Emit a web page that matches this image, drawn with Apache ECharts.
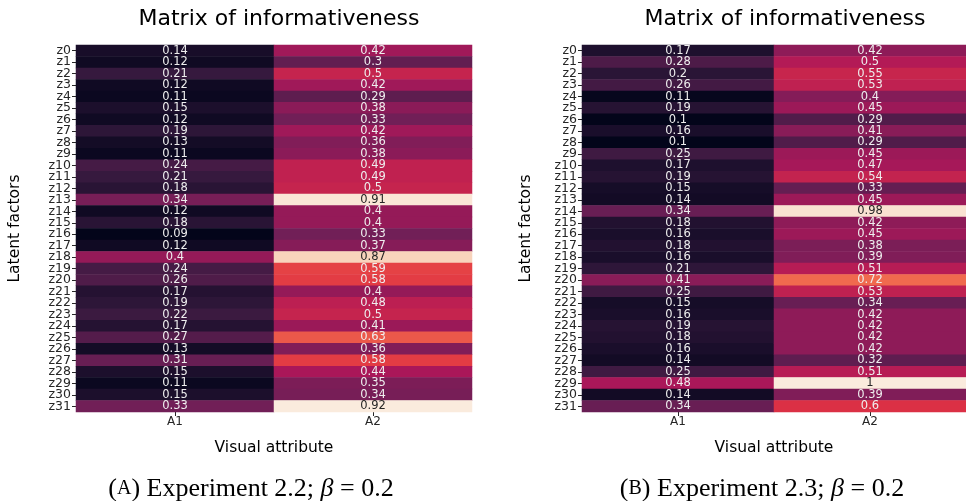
<!DOCTYPE html>
<html>
<head>
<meta charset="utf-8">
<script src="https://cdn.jsdelivr.net/npm/echarts@6/dist/echarts.min.js"></script>
<style>
  html, body { margin: 0; padding: 0; background: #ffffff; }
  #chart { width: 966px; height: 501px; }
</style>
</head>
<body>
<div id="chart"></div>
<script>
// Latent factor rows and visual attribute columns
const factors = Array.from({ length: 32 }, (_, i) => 'z' + i);
const attributes = ['A1', 'A2'];

// Experiment 2.2 (beta = 0.2)
const expA_A1 = [0.14, 0.12, 0.21, 0.12, 0.11, 0.15, 0.12, 0.19, 0.13, 0.11, 0.24, 0.21, 0.18, 0.34, 0.12, 0.18,
                 0.09, 0.12, 0.4, 0.24, 0.26, 0.17, 0.19, 0.22, 0.17, 0.27, 0.13, 0.31, 0.15, 0.11, 0.15, 0.33];
const expA_A2 = [0.42, 0.3, 0.5, 0.42, 0.29, 0.38, 0.33, 0.42, 0.36, 0.38, 0.49, 0.49, 0.5, 0.91, 0.4, 0.4,
                 0.33, 0.37, 0.87, 0.59, 0.58, 0.4, 0.48, 0.5, 0.41, 0.63, 0.36, 0.58, 0.44, 0.35, 0.34, 0.92];

// Experiment 2.3 (beta = 0.2)
const expB_A1 = [0.17, 0.28, 0.2, 0.26, 0.11, 0.19, 0.1, 0.16, 0.1, 0.25, 0.17, 0.19, 0.15, 0.14, 0.34, 0.18,
                 0.16, 0.18, 0.16, 0.21, 0.41, 0.25, 0.15, 0.16, 0.19, 0.18, 0.16, 0.14, 0.25, 0.48, 0.14, 0.34];
const expB_A2 = [0.42, 0.5, 0.55, 0.53, 0.4, 0.45, 0.29, 0.41, 0.29, 0.45, 0.47, 0.54, 0.33, 0.45, 0.98, 0.42,
                 0.45, 0.38, 0.39, 0.51, 0.72, 0.53, 0.34, 0.42, 0.42, 0.42, 0.42, 0.32, 0.51, 1, 0.39, 0.6];

const titleText = 'Matrix of informativeness';
const xName = 'Visual attribute';
const yName = 'Latent factors';

// "rocket" colormap stops
const rocket = ['#03051a', '#35193e', '#701f57', '#ad1759', '#e13342', '#f37651', '#f6b48f', '#faebdd'];

function cells(colA1, colA2) {
  const out = [];
  colA1.forEach((v, i) => out.push([0, i, v]));
  colA2.forEach((v, i) => out.push([1, i, v]));
  return out;
}

const dataA = cells(expA_A1, expA_A2);
const dataB = cells(expB_A1, expB_A2);
const minA = Math.min(...expA_A1, ...expA_A2), maxA = Math.max(...expA_A1, ...expA_A2);
const minB = Math.min(...expB_A1, ...expB_A2), maxB = Math.max(...expB_A1, ...expB_A2);

const sans = 'DejaVu Sans';
const tickColor = '#262626';

const grids = [
  { left: 76, top: 45, width: 396, height: 367 },
  { left: 582, top: 45, width: 396, height: 367 }
];

function xAxisFor(idx) {
  return {
    type: 'category', gridIndex: idx, data: attributes, position: 'bottom',
    axisLine: { show: false },
    axisTick: { show: true, alignWithLabel: true, length: 4, lineStyle: { color: tickColor, width: 1 } },
    axisLabel: { color: tickColor, fontFamily: sans, fontSize: 12, margin: 4 },
    splitLine: { show: false },
    name: xName, nameLocation: 'middle', nameGap: 28,
    nameTextStyle: { color: '#000', fontFamily: sans, fontSize: 15.5 }
  };
}

function yAxisFor(idx, gap) {
  return {
    type: 'category', gridIndex: idx, data: factors, inverse: true,
    axisLine: { show: false },
    axisTick: { show: true, alignWithLabel: true, length: 4, lineStyle: { color: tickColor, width: 1 } },
    axisLabel: { color: tickColor, fontFamily: sans, fontSize: 12.5, margin: 5, interval: 0 },
    splitLine: { show: false },
    name: yName, nameLocation: 'middle', nameGap: gap, nameRotate: 90,
    nameTextStyle: { color: '#000', fontFamily: sans, fontSize: 15.5 }
  };
}

function heat(idx, data) {
  return {
    type: 'heatmap', xAxisIndex: idx, yAxisIndex: idx, data: data,
    label: {
      show: true, fontFamily: sans, fontSize: 11.5,
      formatter: p => String(p.value[2]),
      color: '#eeeeee'
    },
    itemStyle: { borderWidth: 0 },
    emphasis: { disabled: true },
    animation: false
  };
}

// dark annotation text on the palest cells
function darkLabels(data, min, max) {
  return data.map(d => {
    const t = (d[2] - min) / (max - min);
    return t > 0.85 ? { value: d, label: { color: '#262626' } } : { value: d };
  });
}

const capStyle = {
  fontFamily: 'Liberation Serif', fontSize: 26, fontWeight: 'normal', color: '#000',
  rich: {
    sc: { fontFamily: 'Liberation Serif', fontSize: 20, fontWeight: 'normal', color: '#000' },
    it: { fontFamily: 'Liberation Serif', fontSize: 26, fontWeight: 'normal', fontStyle: 'italic', color: '#000' }
  }
};

const chart = echarts.init(document.getElementById('chart'));
chart.setOption({
  backgroundColor: '#ffffff',
  animation: false,
  title: [
    { text: titleText, left: 274, top: 3, textAlign: 'center',
      textStyle: { fontFamily: sans, fontSize: 22, fontWeight: 'normal', color: '#000' } },
    { text: titleText, left: 780, top: 3, textAlign: 'center',
      textStyle: { fontFamily: sans, fontSize: 22, fontWeight: 'normal', color: '#000' } },
    { text: '({sc|A}) Experiment 2.2; {it|β} = 0.2', left: 246, top: 471, textAlign: 'center', textStyle: capStyle },
    { text: '({sc|B}) Experiment 2.3; {it|β} = 0.2', left: 757, top: 471, textAlign: 'center', textStyle: capStyle }
  ],
  grid: grids,
  xAxis: [xAxisFor(0), xAxisFor(1)],
  yAxis: [yAxisFor(0, 53), yAxisFor(1, 48)],
  visualMap: [
    { show: false, type: 'continuous', seriesIndex: 0, min: minA, max: maxA, inRange: { color: rocket } },
    { show: false, type: 'continuous', seriesIndex: 1, min: minB, max: maxB, inRange: { color: rocket } }
  ],
  series: [
    Object.assign(heat(0, dataA), { data: darkLabels(dataA, minA, maxA) }),
    Object.assign(heat(1, dataB), { data: darkLabels(dataB, minB, maxB) })
  ]
});
</script>
</body>
</html>
